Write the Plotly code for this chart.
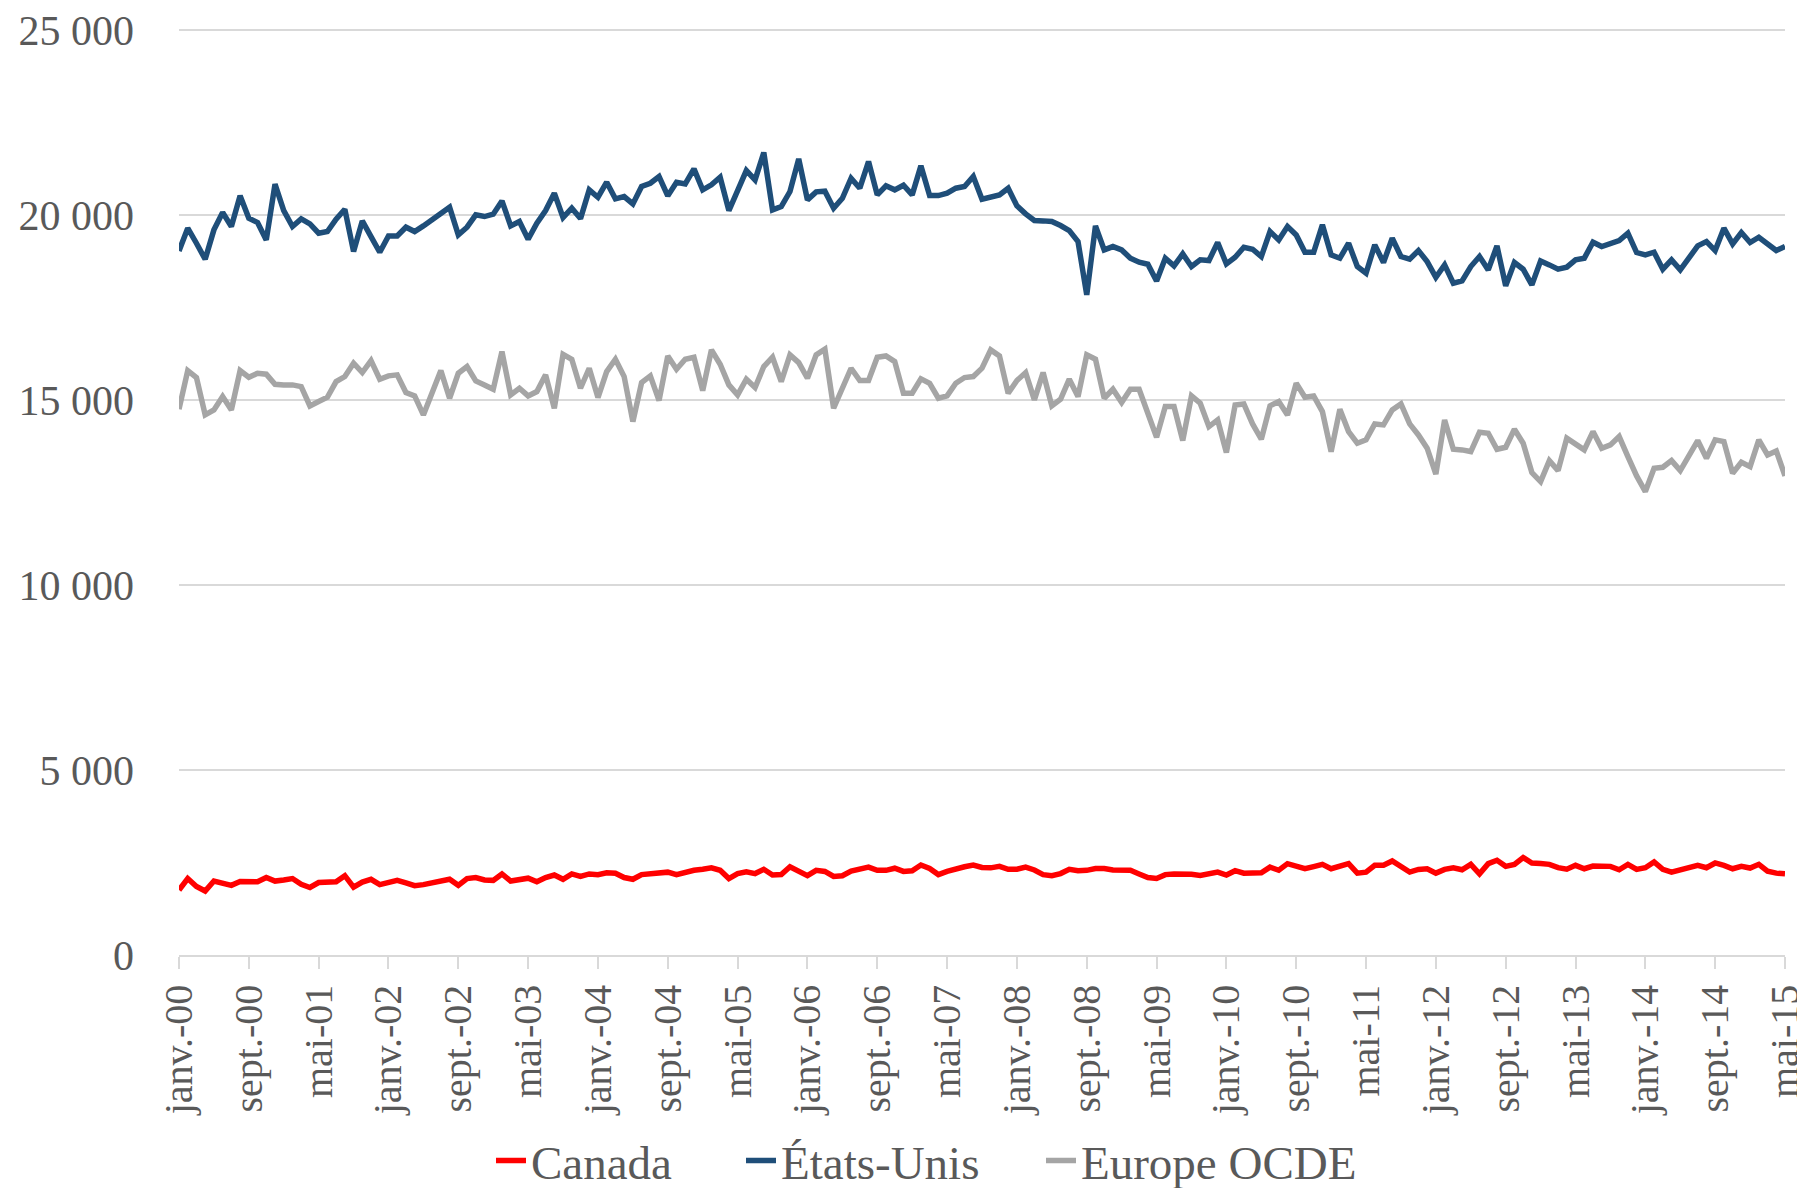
import plotly.graph_objects as go

MOIS = ["janv.", "févr.", "mars", "avr.", "mai", "juin",
        "juil.", "août", "sept.", "oct.", "nov.", "déc."]
ANNEES = list(range(0, 16))

# janv.-00 .. mai-15
mois = [f"{m}-{a:02d}" for a in ANNEES for m in MOIS][:185]

canada = [
    1757, 2066, 1853, 1728, 1998, 1940, 1882, 1988, 1988, 1978, 2094, 1998,
    2027, 2066, 1911, 1824, 1959, 1969, 1978, 2143, 1834, 1969, 2046, 1901,
    1950, 2017, 1950, 1872, 1901, 1950, 1998, 2046, 1882, 2066, 2094, 2027,
    2017, 2191, 1998, 2046, 2075, 1978, 2094, 2162, 2046, 2191, 2123, 2191,
    2172, 2220, 2210, 2094, 2046, 2172, 2191, 2220, 2239, 2172, 2249, 2288,
    2316, 2355, 2288, 2066, 2200, 2249, 2200, 2316, 2162, 2172, 2384, 2268,
    2143, 2288, 2258, 2123, 2143, 2268, 2316, 2374, 2288, 2288, 2345, 2258,
    2278, 2432, 2336, 2172, 2258, 2336, 2384, 2432, 2365, 2355, 2394, 2316,
    2316, 2374, 2297, 2172, 2143, 2200, 2316, 2278, 2288, 2336, 2336, 2297,
    2278, 2288, 2191, 2094, 2066, 2172, 2191, 2191, 2181, 2152, 2191, 2239,
    2162, 2278, 2210, 2200, 2220, 2374, 2290, 2468, 2400, 2331, 2390, 2450,
    2331, 2400, 2468, 2212, 2240, 2423, 2423, 2541, 2390, 2240, 2313, 2331,
    2212, 2313, 2359, 2304, 2450, 2194, 2468, 2560, 2395, 2450, 2633, 2487,
    2470, 2450, 2360, 2320, 2423, 2331, 2404, 2400, 2395, 2304, 2450, 2313,
    2359, 2514, 2313, 2240, 2300, 2360, 2420, 2359, 2487, 2420, 2331, 2395,
    2350, 2450, 2267, 2212, 2194,
]

etats_unis = [
    19027, 19640, 19234, 18800, 19595, 20063, 19685, 20514, 19910, 19793, 19324, 20829,
    20117, 19685, 19892, 19757, 19505, 19550, 19883, 20153, 19009, 19838, 19414, 18991,
    19432, 19432, 19667, 19550, 19703, 19865, 20063, 20207, 19459, 19667, 20000, 19955,
    20018, 20378, 19703, 19820, 19342, 19775, 20117, 20586, 19928, 20180, 19900, 20676,
    20477, 20883, 20432, 20495, 20297, 20766, 20856, 21036, 20514, 20883, 20838, 21243,
    20676, 20811, 21018, 20117, 20658, 21198, 20946, 21685, 20135, 20225, 20631, 21513,
    20405, 20622, 20640, 20180, 20450, 20991, 20721, 21441, 20540, 20784, 20676, 20802,
    20540, 21324, 20522, 20522, 20586, 20721, 20766, 21036, 20423, 20477, 20540, 20721,
    20243, 20027, 19847, 19838, 19820, 19712, 19577, 19279, 17838, 19703, 19054, 19144,
    19054, 18829, 18721, 18667, 18216, 18829, 18622, 18946, 18604, 18784, 18766, 19252,
    18676, 18856, 19126, 19072, 18874, 19550, 19324, 19685, 19459, 18991, 18991, 19730,
    18919, 18829, 19234, 18604, 18423, 19189, 18712, 19369, 18874, 18802, 19036, 18739,
    18315, 18649, 18153, 18216, 18604, 18874, 18514, 19162, 18081, 18712, 18532, 18108,
    18757, 18649, 18532, 18586, 18784, 18829, 19261, 19144, 19234, 19306, 19505, 18982,
    18919, 18991, 18532, 18784, 18514, 18829, 19162, 19279, 19036, 19640, 19216, 19523,
    19252, 19396, 19234, 19036, 19144,
]

europe_ocde = [
    14748, 15793, 15604, 14595, 14730, 15090, 14730, 15793, 15613, 15721, 15694, 15423,
    15405, 15405, 15360, 14838, 14955, 15072, 15495, 15631, 15991, 15739, 16063, 15559,
    15649, 15676, 15198, 15108, 14595, 15225, 15793, 15045, 15721, 15901, 15514, 15405,
    15288, 16306, 15135, 15315, 15108, 15225, 15676, 14775, 16234, 16099, 15315, 15856,
    15063, 15766, 16099, 15631, 14414, 15468, 15649, 14982, 16189, 15829, 16099, 16153,
    15252, 16351, 15964, 15405, 15135, 15559, 15333, 15901, 16153, 15495, 16216, 16009,
    15586, 16216, 16369, 14775, 15360, 15856, 15523, 15523, 16153, 16189, 16036, 15180,
    15180, 15568, 15450, 15045, 15108, 15450, 15604, 15631, 15856, 16351, 16189, 15180,
    15523, 15739, 15000, 15739, 14838, 15018, 15559, 15090, 16216, 16099, 15045, 15288,
    14928, 15288, 15288, 14658, 13991, 14820, 14820, 13901, 15108, 14910, 14279, 14459,
    13577, 14865, 14892, 14351, 13937, 14838, 14955, 14595, 15450, 15072, 15108, 14685,
    13604, 14748, 14144, 13829, 13919, 14351, 14324, 14730, 14892, 14351, 14054, 13694,
    12995, 14459, 13667, 13649, 13604, 14126, 14099, 13667, 13721, 14207, 13829, 13036,
    12793, 13360, 13090, 13964, 13784, 13649, 14144, 13694, 13784, 14009, 13468, 12946,
    12523, 13153, 13180, 13360, 13090, 13514, 13901, 13423, 13919, 13874, 13018, 13315,
    13198, 13919, 13514, 13622, 12946,
]

FONT = "Liberation Serif"
GRIS = "#595959"
GRILLE = "#d9d9d9"

fig = go.Figure()
fig.add_trace(go.Scatter(x=mois, y=canada, name="Canada", mode="lines",
                         line=dict(color="#ff0000", width=5.5), legendwidth=205))
fig.add_trace(go.Scatter(x=mois, y=etats_unis, name="États-Unis", mode="lines",
                         line=dict(color="#1f4e79", width=5.5), legendwidth=255))
fig.add_trace(go.Scatter(x=mois, y=europe_ocde, name="Europe OCDE", mode="lines",
                         line=dict(color="#a5a5a5", width=5.5), legendwidth=280))

# la page HTML ajoute une marge de 8 px autour de la figure
fig.update_layout(
    width=1805,
    height=1188,
    margin=dict(l=171, r=28, t=20, b=241),
    plot_bgcolor="white",
    paper_bgcolor="white",
    separators=", ",
    font=dict(family=FONT, color=GRIS, size=42),
    showlegend=True,
    legend=dict(orientation="h", xref="container", x=483 / 1805, xanchor="left",
                yref="container", y=1 - 1153 / 1188, yanchor="middle",
                font=dict(size=47, color=GRIS), itemwidth=30,
                bgcolor="rgba(0,0,0,0)"),
)
fig.update_xaxes(
    type="category",
    range=[0, len(mois) - 1],
    tickvals=mois[::8],
    tickangle=-90,
    tickfont=dict(size=40),
    ticks="outside",
    ticklen=12,
    tickwidth=1.5,
    tickcolor=GRILLE,
    showline=True,
    linecolor=GRILLE,
    linewidth=1.5,
    showgrid=False,
    automargin=False,
)
fig.update_yaxes(
    range=[0, 25050],
    tickvals=[0, 5000, 10000, 15000, 20000, 25000],
    tickformat=",d",
    tickfont=dict(size=42),
    ticklabeloverflow="allow",
    showgrid=True,
    gridcolor=GRILLE,
    gridwidth=1.5,
    zeroline=False,
    ticklabelstandoff=44,
    automargin=False,
)

fig.write_html("out.html")
